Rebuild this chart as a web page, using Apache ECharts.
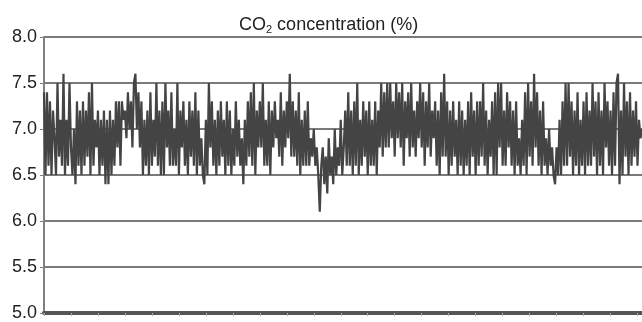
<!DOCTYPE html>
<html>
<head>
<meta charset="utf-8">
<script src="https://cdn.jsdelivr.net/npm/echarts@6/dist/echarts.min.js"></script>
<style>
  html, body { margin: 0; padding: 0; background: #fff; }
  #chart { width: 642px; height: 322px; }
</style>
</head>
<body>
<div id="chart"></div>
<script>
// CO2 读数（按图估读，0.1 精度）
const co2Values = [
  7.4,6.5,7.4,6.6,7.3,6.5,7.2,6.9,6.5,7.5,6.7,7.1,6.6,7.6,6.5,7.1,6.6,7.5,6.8,6.5,
  7.0,6.4,7.3,6.6,7.2,6.5,7.3,6.6,7.2,6.7,7.4,6.5,7.5,6.6,7.1,6.8,7.2,6.5,7.1,6.6,
  7.2,6.4,7.1,6.4,7.2,6.5,7.1,6.6,7.3,6.8,7.3,6.6,7.3,7.1,7.2,6.9,7.4,7.0,7.3,6.8,
  7.5,7.6,7.0,7.4,6.8,7.3,6.5,7.1,6.6,7.2,6.5,7.4,6.6,7.1,6.7,7.5,6.6,7.2,6.5,7.3,
  6.5,7.5,6.8,7.2,6.6,7.4,6.6,7.0,6.6,7.5,6.5,7.2,6.8,7.3,6.6,7.1,6.5,7.3,6.7,7.2,
  6.6,7.4,6.5,7.2,6.6,6.9,6.5,6.4,7.1,6.5,7.5,6.8,7.3,6.6,7.1,6.5,7.2,6.6,7.3,6.7,
  7.1,6.5,7.3,6.6,7.2,6.5,7.0,6.6,7.3,6.7,7.1,6.6,6.9,6.4,7.1,6.6,7.3,6.7,7.4,6.6,
  7.5,6.5,7.2,6.8,7.3,6.8,7.5,6.6,7.1,6.6,7.3,6.5,7.2,6.8,7.3,6.9,7.1,6.7,7.4,6.6,
  7.2,6.8,7.3,6.9,7.6,6.7,7.3,6.7,7.2,6.6,7.4,6.5,7.1,6.6,7.2,6.6,7.3,6.6,6.9,6.7,
  7.0,6.6,6.8,6.5,6.1,6.6,6.8,6.4,6.7,6.3,6.9,6.5,6.7,6.4,7.0,6.5,6.8,6.6,7.1,6.5,
  6.8,7.2,6.6,7.4,6.6,7.2,6.5,7.3,6.6,7.5,6.5,7.1,6.6,7.3,6.7,7.2,6.5,7.3,6.6,7.1,
  6.6,7.3,6.5,7.2,6.8,7.5,6.7,7.4,6.8,7.5,6.8,7.5,6.9,7.3,6.7,7.5,6.9,7.4,6.8,7.5,
  6.6,7.3,6.9,7.4,6.7,7.5,6.8,7.2,6.7,7.3,6.9,7.5,6.8,7.4,6.6,7.3,6.8,7.5,6.7,7.2,
  6.9,7.3,6.6,7.2,6.5,7.4,6.7,7.6,6.7,7.3,6.5,7.2,6.6,7.3,6.7,7.1,6.5,7.3,6.6,7.2,
  6.5,7.1,6.6,7.3,6.5,7.4,6.7,7.2,6.5,7.3,6.6,7.3,6.7,7.5,6.6,7.2,6.5,7.1,6.7,7.3,
  6.5,7.4,6.5,7.5,6.8,7.5,6.6,7.2,6.6,7.4,6.8,7.3,6.6,7.2,6.5,7.3,6.6,6.9,6.5,7.1,
  6.6,7.4,6.5,7.5,6.7,7.3,6.6,7.6,6.8,7.4,6.6,7.2,6.5,7.3,6.6,6.9,6.5,7.0,6.6,6.8,
  6.5,6.4,6.8,6.5,7.1,6.5,7.3,6.6,7.5,6.6,7.5,6.7,7.3,6.5,7.2,6.6,7.4,6.5,7.1,6.6,
  7.3,6.5,7.4,6.6,7.2,6.6,7.5,6.7,7.3,6.5,7.4,6.6,7.2,6.5,7.5,6.8,7.3,6.6,7.2,6.5,
  7.4,6.6,7.5,7.6,6.4,7.2,6.5,7.5,6.7,7.3,6.5,7.4,6.6,7.2,6.7,7.3,6.6,7.1,6.9,7.0
]
const timeLabels = co2Values.map((_, i) => i + 1)
const yTicks = { min: 5, max: 8, interval: 0.5 }

const chart = echarts.init(document.getElementById('chart'))

const option = {
  animation: false,
  textStyle: { fontFamily: 'Liberation Sans, Arial, sans-serif' },
  title: {
    text: '{a|CO}{s|2}{a| concentration (%)}',
    left: 234,
    top: 11,
    textStyle: {
      fontWeight: 'normal',
      rich: {
        a: { fontSize: 18, color: '#222', fontWeight: 'normal', fontFamily: 'Liberation Sans' },
        s: { fontSize: 11, color: '#222', fontWeight: 'normal', fontFamily: 'Liberation Sans', padding: [8, 0, 0, 0] }
      }
    }
  },
  grid: {
    left: 44,
    right: 0,
    top: 37,
    bottom: 7
  },
  xAxis: {
    type: 'category',
    boundaryGap: false,
    data: timeLabels,
    axisLine: { lineStyle: { color: '#555', width: 4 } },
    axisTick: { show: true, interval: 17, length: 3, lineStyle: { color: '#aaa' } },
    axisLabel: { show: false },
    splitLine: { show: false }
  },
  yAxis: {
    type: 'value',
    min: yTicks.min,
    max: yTicks.max,
    interval: yTicks.interval,
    axisLine: { show: true, lineStyle: { color: '#808080', width: 2 } },
    axisTick: { show: true, length: 4, lineStyle: { color: '#808080', width: 1 } },
    axisLabel: {
      fontSize: 18,
      color: '#222',
      margin: 7,
      formatter: (v) => v.toFixed(1)
    },
    splitLine: { show: true, lineStyle: { color: '#7a7a7a', width: 2 } }
  },
  series: [
    {
      name: 'CO2',
      type: 'line',
      data: co2Values,
      showSymbol: false,
      lineStyle: { color: '#444', width: 2.2 },
      z: 3
    }
  ]
}

chart.setOption(option)
</script>
</body>
</html>
